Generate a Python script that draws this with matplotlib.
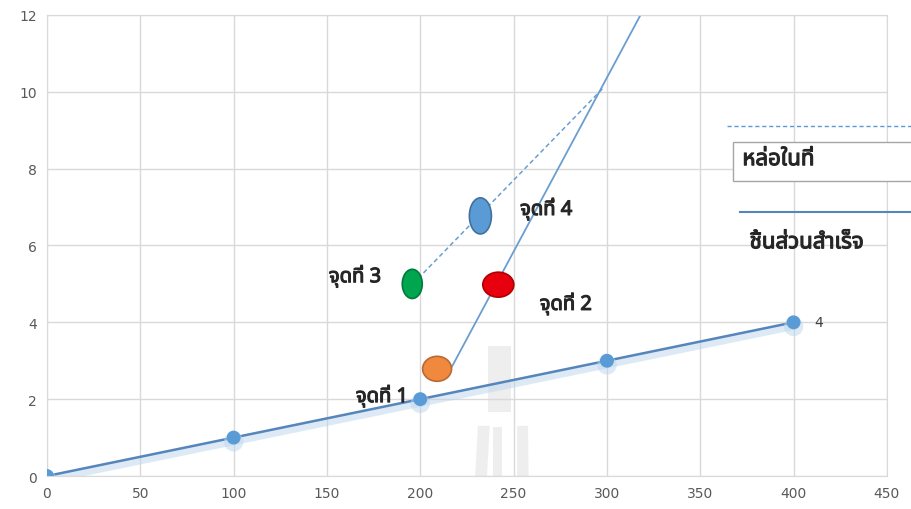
import matplotlib
matplotlib.use("Agg")
import matplotlib.pyplot as plt
import matplotlib.font_manager as fm
import matplotlib.patheffects as pe
from matplotlib.patches import Ellipse, Rectangle, Polygon
from matplotlib.lines import Line2D

# precast members, linear relation
x_main = [0, 100, 200, 300, 400]
y_main = [0, 1, 2, 3, 4]

# steep solid line (precast) and dashed line (cast in place)
x_solid = [217, 318]
y_solid = [2.85, 12]
x_dash = [196, 298]
y_dash = [5.0, 10.1]

# highlighted points: x, y, width, height, face, edge
pt_x = [209, 241.8, 195.7, 232.2]
pt_y = [2.79, 4.98, 5.0, 6.77]
pt_w = [15.5, 16.6, 10.7, 11.8]
pt_h = [0.65, 0.65, 0.76, 0.94]
pt_face = ["#F0883E", "#E8000E", "#00A550", "#5B9BD5"]
pt_edge = ["#B86A33", "#B00000", "#007A3D", "#41719C"]

labels = ["จุดที่ 1", "จุดที่ 2", "จุดที่ 3", "จุดที่ 4"]
lab_x = [193.5, 264, 179, 253.5]
lab_y = [2.08, 4.48, 5.2, 6.95]
lab_ha = ["right", "left", "right", "left"]

x_ticks = [0, 50, 100, 150, 200, 250, 300, 350, 400, 450]
y_ticks = [0, 2, 4, 6, 8, 10, 12]


def find_thai_font():
    try:
        from fontTools.ttLib import TTFont
    except ImportError:
        return None
    preferred = ["Noto Sans Thai", "Noto Sans Thai UI", "Loma", "Garuda",
                 "Tahoma", "Leelawadee UI", "Sarabun", "Kinnari", "Norasi"]
    found = {}
    for f in fm.fontManager.ttflist:
        if f.name in found:
            continue
        try:
            cmap = TTFont(f.fname, fontNumber=0, lazy=True).getBestCmap()
        except Exception:
            continue
        if cmap and 0x0E08 in cmap and 0x0E35 in cmap:
            found[f.name] = f.fname
    for name in preferred:
        if name in found:
            return name
    return next(iter(found), None)


thai = find_thai_font()
families = ([thai] if thai else []) + ["DejaVu Sans"]
plt.rcParams["font.family"] = families

# heavier strokes stand in for a bold Thai face
bold = [pe.withStroke(linewidth=0.8, foreground="#262626")]

fig = plt.figure(figsize=(9.12, 5.10), dpi=100)
ax = fig.add_axes([0.0515, 0.0647, 0.921, 0.904])

ax.set_xlim(0, 450)
ax.set_ylim(0, 12)
ax.set_xticks(x_ticks)
ax.set_yticks(y_ticks)
ax.grid(True, color="#D9D9D9", lw=1)
ax.set_axisbelow(True)
for s in ax.spines.values():
    s.set_color("#D9D9D9")
ax.tick_params(length=0, colors="#595959", labelsize=10, pad=7)
for t in ax.get_xticklabels() + ax.get_yticklabels():
    t.set_family("DejaVu Sans")

# faint watermark behind the data
wm = dict(color="#E4E4E4", alpha=0.6, zorder=0.5, lw=0, transform=fig.transFigure)
ax.add_patch(Rectangle((0.535, 0.19), 0.025, 0.13, **wm))
ax.add_patch(Polygon([(0.519, 0.0), (0.524, 0.163), (0.537, 0.163), (0.532, 0.0)], **wm))
ax.add_patch(Polygon([(0.567, 0.0), (0.567, 0.163), (0.579, 0.163), (0.580, 0.0)], **wm))
ax.add_patch(Rectangle((0.541, 0.02), 0.009, 0.14, **wm))

ax.plot(x_main, y_main, color="#5585BA", lw=1.8, marker="o", ms=9,
        mfc="#5B9BD5", mec="#5B9BD5", zorder=3,
        path_effects=[pe.SimpleLineShadow(offset=(0, -3), shadow_color="#BDD7EE",
                                          alpha=0.5, linewidth=5),
                      pe.Normal()])
ax.text(x_main[-1] + 11, y_main[-1], str(y_main[-1]), va="center", ha="left",
        fontsize=10, color="#404040", family="DejaVu Sans")

ax.plot(x_solid, y_solid, color="#6A9ED0", lw=1.3, zorder=2)
ax.plot(x_dash, y_dash, color="#6A9ED0", lw=1.1, ls=(0, (3, 2)), zorder=2)

for x, y, w, h, fc, ec in zip(pt_x, pt_y, pt_w, pt_h, pt_face, pt_edge):
    ax.add_patch(Ellipse((x, y), w, h, facecolor=fc, edgecolor=ec, lw=1.2, zorder=4))

for s, x, y, ha in zip(labels, lab_x, lab_y, lab_ha):
    ax.text(x, y, s, ha=ha, va="center", fontsize=14.5, fontweight="bold",
            color="#262626", zorder=5, path_effects=bold)

# legend drawn by hand on the right side
fig.add_artist(Line2D([0.797, 1.0], [0.751, 0.751], color="#5B9BD5", lw=1,
                      ls=(0, (3, 2)), transform=fig.transFigure))
fig.add_artist(Rectangle((0.804, 0.643), 0.25, 0.0765, transform=fig.transFigure,
                         facecolor="white", edgecolor="#A6A6A6", lw=1))
fig.text(0.814, 0.685, "หล่อในที่", ha="left", va="center", fontsize=16,
         fontweight="bold", color="#262626", path_effects=bold)
fig.add_artist(Line2D([0.811, 1.0], [0.582, 0.582], color="#5585BA", lw=1.5,
                      transform=fig.transFigure))
fig.text(0.822, 0.522, "ชิ้นส่วนสำเร็จ", ha="left", va="center", fontsize=16,
         fontweight="bold", color="#262626", path_effects=bold)

fig.savefig("out.png", dpi=100)
